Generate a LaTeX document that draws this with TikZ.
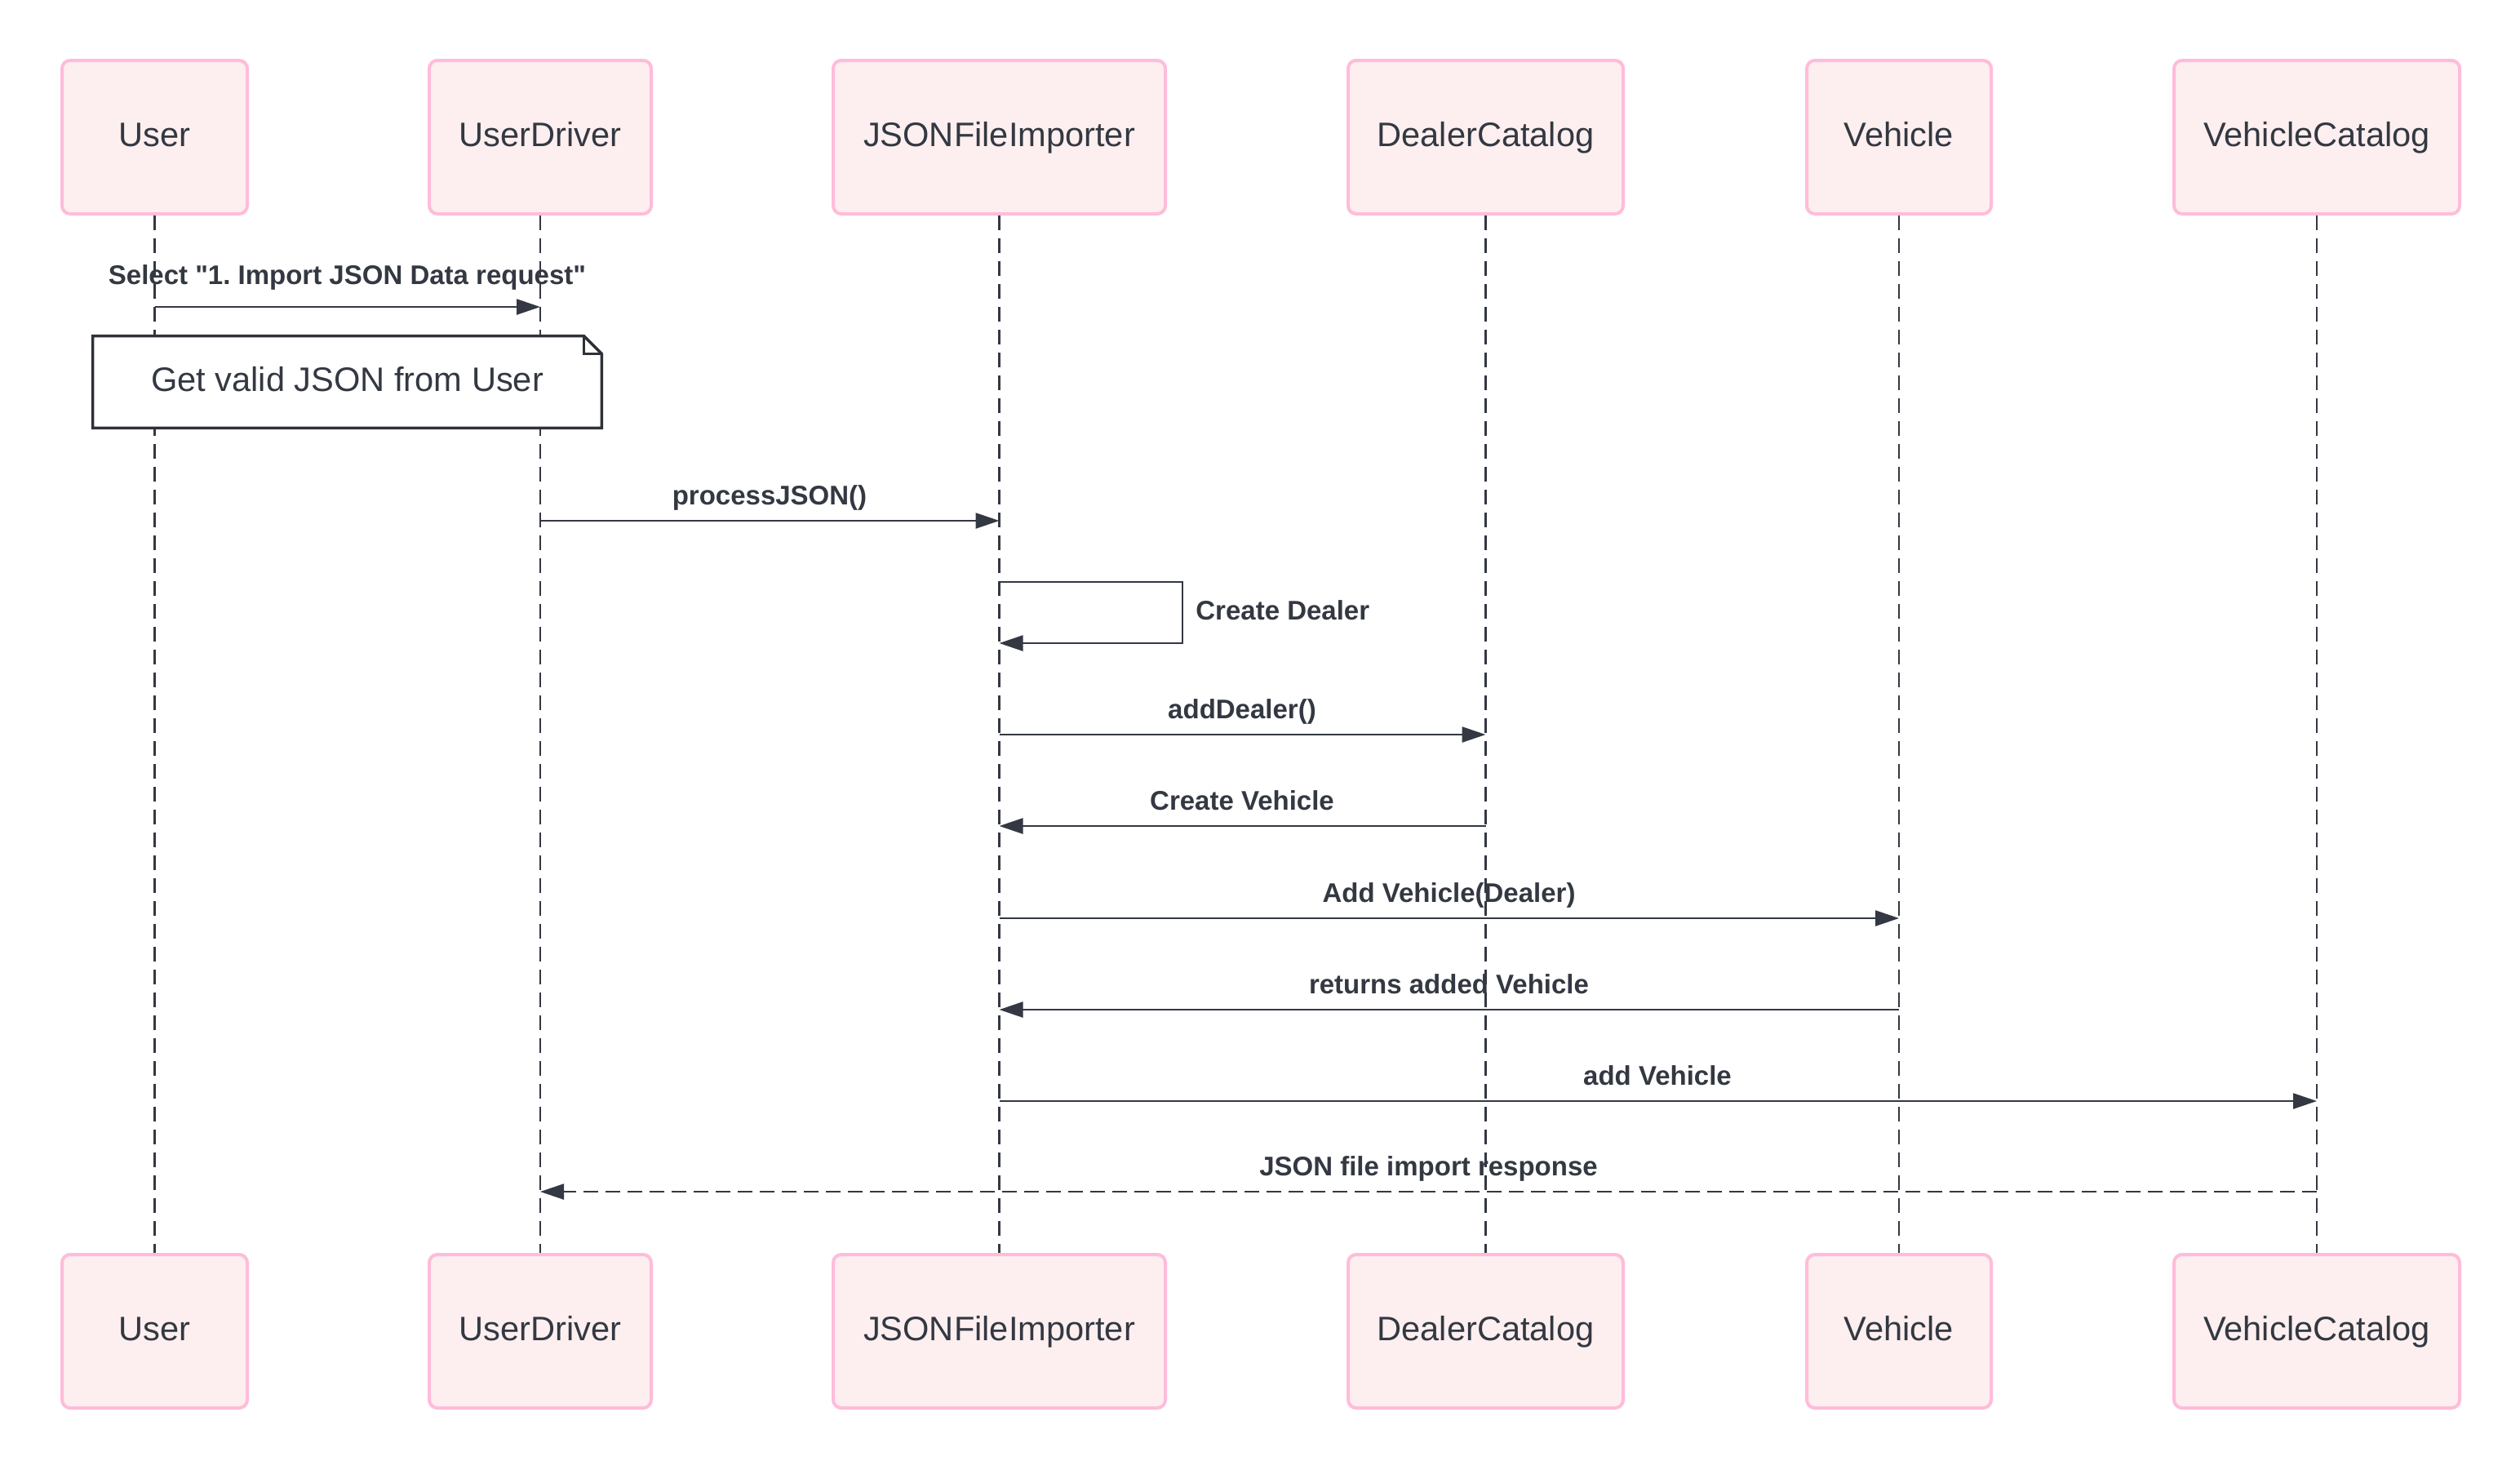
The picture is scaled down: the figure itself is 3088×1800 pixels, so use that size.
\documentclass[tikz,border=0pt]{standalone}
\usepackage{fontspec}
\setmainfont{Liberation Sans}[Ligatures=TeXOff]
\usetikzlibrary{arrows.meta}
\definecolor{ink}{HTML}{333842}
\definecolor{actorfill}{HTML}{FDEFEF}
\definecolor{actorline}{HTML}{FFBCDA}
\definecolor{noteline}{HTML}{2E3138}
\frenchspacing

\begin{document}
\begin{tikzpicture}[x=0.5pt,y=-0.5pt,
  actor/.style={draw=actorline, fill=actorfill, line width=2pt, rounded corners=5pt,
    minimum height=94pt, text=ink, font=\fontsize{20.8}{25}\selectfont,
    text height=0.716em+4pt, text depth=0pt, inner sep=0pt},
  lifeline/.style={draw=ink, line width=1.3pt, dash pattern=on 9pt off 5pt},
  msg/.style={draw=ink, line width=1.2pt, -{Triangle[length=14.5pt,width=9.5pt]}},
  reply/.style={msg, dash pattern=on 9pt off 4.5pt},
  lbl/.style={text=ink, font=\bfseries\fontsize{16.5}{20}\selectfont,
    text height=0.716em, text depth=0pt, inner sep=0pt},
  notebox/.style={minimum width=311.5pt, minimum height=56pt, inner sep=0pt,
    text=ink, font=\fontsize{20.8}{25}\selectfont, text height=0.716em+4pt, text depth=0pt},
]
\useasboundingbox (0,0) rectangle (3088,1800);
\fill[white] (0,0) rectangle (3088,1800);

% participants, top row
\node[actor, minimum width=113.5pt] (uT)  at (189.5,168) {User};
\node[actor, minimum width=136pt]   (udT) at (662,168)   {UserDriver};
\node[actor, minimum width=203.5pt] (jT)  at (1224.5,168) {JSONFileImporter};
\node[actor, minimum width=168.5pt] (dcT) at (1820.5,168) {DealerCatalog};
\node[actor, minimum width=113pt]   (vT)  at (2327,168)  {Vehicle};
\node[actor, minimum width=175pt]   (vcT) at (2839,168)  {VehicleCatalog};

% participants, bottom row
\node[actor, minimum width=113.5pt] (uB)  at (189.5,1631) {User};
\node[actor, minimum width=136pt]   (udB) at (662,1631)   {UserDriver};
\node[actor, minimum width=203.5pt] (jB)  at (1224.5,1631) {JSONFileImporter};
\node[actor, minimum width=168.5pt] (dcB) at (1820.5,1631) {DealerCatalog};
\node[actor, minimum width=113pt]   (vB)  at (2327,1631)  {Vehicle};
\node[actor, minimum width=175pt]   (vcB) at (2839,1631)  {VehicleCatalog};

% lifelines
\foreach \p in {u,ud,j,dc,v,vc}
  \draw[lifeline] (\p T.south) -- (\p B.north);

% message rows
\coordinate (m1) at (0,376);
\coordinate (m2) at (0,638);
\coordinate (loopA) at (1449,713);
\coordinate (loopB) at (1449,788);
\coordinate (m3) at (0,900);
\coordinate (m4) at (0,1012);
\coordinate (m5) at (0,1125);
\coordinate (m6) at (0,1237);
\coordinate (m7) at (0,1349);
\coordinate (m8) at (0,1460);

% note
\node[notebox] (note) at (425.5,468) {};
\draw[noteline, line width=1.8pt, fill=white, line join=miter]
  (note.south west) -- (note.north west) -- ([xshift=-11pt]note.north east)
  -- ([yshift=-11pt]note.north east) -- (note.south east) -- cycle;
\draw[noteline, line width=1.8pt]
  ([xshift=-11pt]note.north east) -- ([xshift=-11pt,yshift=-11pt]note.north east)
  -- ([yshift=-11pt]note.north east);
\node[notebox] (notetext) at (note.center) {Get valid JSON from User};

% messages
\draw[msg] (uT |- m1) -- (udT |- m1);
\node[lbl] (l1) at (425.5,341) {Select "1. Import JSON Data request"};

\draw[msg] (udT |- m2) -- (jT |- m2);
\node[lbl] (l2) at (943,611) {processJSON()};

\draw[msg] (jT |- loopA) -- (loopA) -- (loopB) -- (jT |- loopB);
\node[lbl, anchor=west] (l3) at (1465,752) {Create Dealer};

\draw[msg] (jT |- m3) -- (dcT |- m3);
\node[lbl] (l4) at (1522,873) {addDealer()};

\draw[msg] (dcT |- m4) -- (jT |- m4);
\node[lbl] (l5) at (1522,985) {Create Vehicle};

\draw[msg] (jT |- m5) -- (vT |- m5);
\node[lbl] (l6) at (1775.5,1098) {Add Vehicle(Dealer)};

\draw[msg] (vT |- m6) -- (jT |- m6);
\node[lbl] (l7) at (1775.5,1210) {returns added Vehicle};

\draw[msg] (jT |- m7) -- (vcT |- m7);
\node[lbl] (l8) at (2031,1322) {add Vehicle};

\draw[reply] (vcT |- m8) -- (udT |- m8);
\node[lbl] (l9) at (1750.5,1433) {JSON file import response};
\end{tikzpicture}
\end{document}
